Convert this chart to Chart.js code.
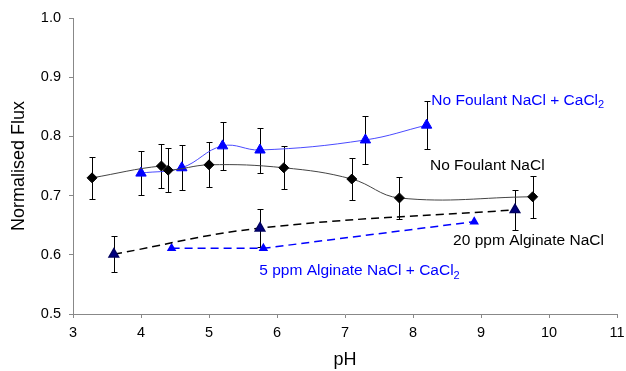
<!DOCTYPE html>
<html>
<head>
<meta charset="utf-8">
<script src="https://cdn.jsdelivr.net/npm/chart.js@4"></script>
<style>
  html, body { margin: 0; padding: 0; background: #fff; }
  #wrap { width: 626px; height: 371px; }
</style>
</head>
<body>
<div id="wrap"><canvas id="fluxChart" width="626" height="371"></canvas></div>
<script>
// No Foulant NaCl
const naclPH = [3.28, 4.3, 4.4, 5.0, 6.1, 7.1, 7.8, 9.76];
const naclFlux = [0.730, 0.750, 0.743, 0.752, 0.747, 0.728, 0.696, 0.698];
const naclErr = [0.036, 0.038, 0.037, 0.038, 0.036, 0.035, 0.035, 0.035];

// No Foulant NaCl + CaCl2
const cacl2PH = [4.0, 4.6, 5.2, 5.75, 7.3, 8.2];
const cacl2Flux = [0.738, 0.747, 0.784, 0.777, 0.794, 0.819];
const cacl2Err = [0.037, 0.038, 0.040, 0.038, 0.040, 0.041];

// 20 ppm Alginate NaCl
const alg20PH = [3.6, 5.75, 9.5];
const alg20Flux = [0.601, 0.645, 0.676];
const alg20Err = [0.030, 0.032, 0.034];

// 5 ppm Alginate NaCl + CaCl2
const alg5PH = [4.45, 5.8, 8.9];
const alg5Flux = [0.611, 0.611, 0.656];

const xTicks = [3, 4, 5, 6, 7, 8, 9, 10, 11];
const yTicks = [0.5, 0.6, 0.7, 0.8, 0.9, 1.0];

function pts(xs, ys) {
    return xs.map((x, i) => ({ x: x, y: ys[i] }));
}

// Error bars drawn through the chart's own scales, under the markers
const errorBars = {
    id: 'errorBars',
    beforeDatasetsDraw(chart) {
        const ctx = chart.ctx;
        const xs = chart.scales.x, ys = chart.scales.y;
        ctx.save();
        ctx.strokeStyle = '#000';
        ctx.lineWidth = 1;
        chart.data.datasets.forEach(ds => {
            if (!ds.errors) return;
            ds.data.forEach((p, i) => {
                const px = Math.round(xs.getPixelForValue(p.x)) + 0.5;
                const top = Math.round(ys.getPixelForValue(p.y + ds.errors[i])) + 0.5;
                const bot = Math.round(ys.getPixelForValue(p.y - ds.errors[i])) + 0.5;
                ctx.beginPath();
                ctx.moveTo(px, top); ctx.lineTo(px, bot);
                ctx.moveTo(px - 3, top); ctx.lineTo(px + 3, top);
                ctx.moveTo(px - 3, bot); ctx.lineTo(px + 3, bot);
                ctx.stroke();
            });
        });
        ctx.restore();
    }
};

// Series labels placed in data coordinates
const seriesLabels = [
    { text: 'No Foulant NaCl + CaCl', sub: '2', x: 8.27, y: 0.861, color: '#0000ff' },
    { text: 'No Foulant NaCl', sub: '', x: 8.25, y: 0.751, color: '#000' },
    { text: '20 ppm Alginate NaCl', sub: '', x: 8.59, y: 0.624, color: '#000' },
    { text: '5 ppm Alginate NaCl + CaCl', sub: '2', x: 5.74, y: 0.573, color: '#0000ff' }
];

const labelPlugin = {
    id: 'seriesLabels',
    afterDraw(chart) {
        const ctx = chart.ctx;
        const xs = chart.scales.x, ys = chart.scales.y;
        ctx.save();
        ctx.textBaseline = 'middle';
        ctx.textAlign = 'left';
        seriesLabels.forEach(l => {
            const px = xs.getPixelForValue(l.x);
            const py = ys.getPixelForValue(l.y);
            ctx.fillStyle = l.color;
            ctx.font = '15.5px "Liberation Sans", Arial, sans-serif';
            ctx.fillText(l.text, px, py);
            if (l.sub) {
                const w = ctx.measureText(l.text).width;
                ctx.font = '11px "Liberation Sans", Arial, sans-serif';
                ctx.fillText(l.sub, px + w, py + 5);
            }
        });
        ctx.restore();
    }
};

Chart.defaults.font.family = '"Liberation Sans", Arial, sans-serif';
Chart.defaults.color = '#000';

const ctx = document.getElementById('fluxChart').getContext('2d');
new Chart(ctx, {
    type: 'scatter',
    data: {
        datasets: [
            {
                label: 'No Foulant NaCl',
                data: pts(naclPH, naclFlux),
                errors: naclErr,
                showLine: true,
                tension: 0.4,
                borderColor: '#444',
                borderWidth: 1,
                pointBackgroundColor: '#000',
                pointBorderColor: '#000',
                pointStyle: 'rectRot',
                pointRadius: 5
            },
            {
                label: 'No Foulant NaCl + CaCl2',
                data: pts(cacl2PH, cacl2Flux),
                errors: cacl2Err,
                showLine: true,
                tension: 0.4,
                borderColor: '#4a4aff',
                borderWidth: 1,
                pointBackgroundColor: '#0000ff',
                pointBorderColor: '#0000ff',
                pointStyle: 'triangle',
                pointRadius: 6
            },
            {
                label: '20 ppm Alginate NaCl',
                data: pts(alg20PH, alg20Flux),
                errors: alg20Err,
                showLine: true,
                tension: 0.4,
                borderColor: '#000',
                borderWidth: 1.5,
                borderDash: [8, 5],
                pointBackgroundColor: '#000080',
                pointBorderColor: '#000060',
                pointStyle: 'triangle',
                pointRadius: 5.5
            },
            {
                label: '5 ppm Alginate NaCl + CaCl2',
                data: pts(alg5PH, alg5Flux),
                showLine: true,
                tension: 0,
                borderColor: '#0000ff',
                borderWidth: 1.5,
                borderDash: [8, 5],
                pointBackgroundColor: '#0000ff',
                pointBorderColor: '#0000ff',
                pointStyle: 'triangle',
                pointRadius: 4
            }
        ]
    },
    options: {
        responsive: false,
        animation: false,
        layout: { padding: { top: 18, right: 9, left: 0, bottom: 0 } },
        plugins: {
            legend: { display: false },
            tooltip: { enabled: false }
        },
        scales: {
            x: {
                type: 'linear',
                min: 3,
                max: 11,
                afterBuildTicks(axis) { axis.ticks = xTicks.map(v => ({ value: v })); },
                afterFit(axis) { axis.height = 57; axis.paddingRight = 0; axis.paddingLeft = 0; },
                border: { color: '#888', width: 1 },
                grid: { display: true, drawOnChartArea: false, drawTicks: true, tickLength: 4, color: '#888' },
                ticks: { font: { size: 14.5 }, color: '#000', padding: 6 },
                title: { display: true, text: 'pH', font: { size: 18 }, color: '#000', padding: { top: 4, bottom: 0 } }
            },
            y: {
                min: 0.5,
                max: 1.0,
                afterBuildTicks(axis) { axis.ticks = yTicks.map(v => ({ value: v })); },
                afterFit(axis) { axis.width = 73; },
                border: { color: '#888', width: 1 },
                grid: { display: true, drawOnChartArea: false, drawTicks: true, tickLength: 4, color: '#888' },
                ticks: { font: { size: 14.5 }, color: '#000', padding: 8, callback: v => v.toFixed(1) },
                title: { display: true, text: 'Normalised Flux', font: { size: 18 }, color: '#000', padding: { top: 8, bottom: 0 } }
            }
        }
    },
    plugins: [errorBars, labelPlugin]
});
</script>
</body>
</html>
